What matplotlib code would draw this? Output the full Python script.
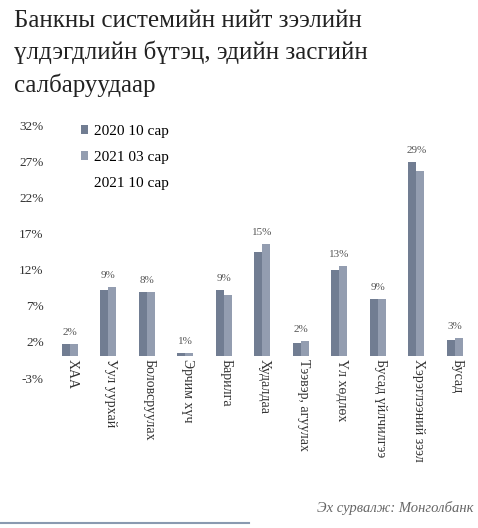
import matplotlib.pyplot as plt
import numpy as np
from matplotlib.lines import Line2D

# sectors and loan shares (%)
sectors = ['ХАА', 'Уул уурхай', 'Боловсруулах', 'Эрчим хүч', 'Барилга', 'Худалдаа',
           'Тээвэр, агуулах', 'Үл хөдлөх', 'Бусад үйлчилгээ', 'Хэрэглээний зээл', 'Бусад']
s2020_10 = [1.7, 9.2, 8.9, 0.5, 9.2, 14.5, 1.9, 12.0, 8.0, 26.9, 2.3]
s2021_03 = [1.7, 9.6, 8.9, 0.5, 8.5, 15.6, 2.1, 12.5, 8.0, 25.6, 2.5]
s2021_10 = [2, 9, 8, 1, 9, 15, 2, 13, 9, 29, 3]
series_names = ['2020 10 сар', '2021 03 сар', '2021 10 сар']
yticks = [-3, 2, 7, 12, 17, 22, 27, 32]

plt.rcParams['font.family'] = ['Liberation Serif', 'DejaVu Serif']

fig = plt.figure(figsize=(4.78, 5.28), dpi=100)
ax = fig.add_axes([0.106, 0.284, 0.886, 0.479])

x = np.arange(len(sectors))
w = 0.21
b1 = ax.bar(x - w, s2020_10, w, color='#717d92', label=series_names[0])
b2 = ax.bar(x, s2021_03, w, color='#939db0', label=series_names[1])
b3 = ax.bar(x + w, s2021_10, w, color='white', label=series_names[2])

# value labels (2021 10 сар) above each pair
for i in range(len(sectors)):
    top = max(s2020_10[i], s2021_03[i])
    ax.annotate(f'{s2021_10[i]}%', (x[i] - w / 2, top), xytext=(0, 5),
                textcoords='offset points', ha='center', va='bottom',
                fontsize=8, color='#555555')
    ax.text(x[i] - w / 2 + 0.06, -0.3, sectors[i], rotation=-90, ha='center', va='top',
            fontsize=10, color='#333333')

ax.set_xlim(-0.6, 10.4)
ax.set_ylim(-3, 32)
ax.set_yticks(yticks)
ax.set_yticklabels([f'{t}%' for t in yticks], fontsize=9.5, color='#333333')
ax.set_xticks([])
ax.tick_params(axis='y', length=0, pad=5)
for sp in ax.spines.values():
    sp.set_visible(False)

fig.legend(handles=[b1, b2, b3], loc='upper left', bbox_to_anchor=(0.14, 0.79),
           frameon=False, fontsize=11, handlelength=0.5, handleheight=0.5,
           handletextpad=0.4, labelspacing=0.85)

fig.text(0.03, 0.982, 'Банкны системийн нийт зээлийн\nүлдэгдлийн бүтэц, эдийн засгийн\nсалбаруудаар',
         ha='left', va='top', fontsize=18, color='#222222', linespacing=1.5)

fig.text(0.99, 0.025, 'Эх сурвалж: Монголбанк', ha='right', va='bottom',
         fontsize=10.5, style='italic', color='#666666')

fig.add_artist(Line2D([0, 0.52], [0.01, 0.01], color='#8a9ab0', lw=1.5))

fig.savefig('out.png', dpi=100)
